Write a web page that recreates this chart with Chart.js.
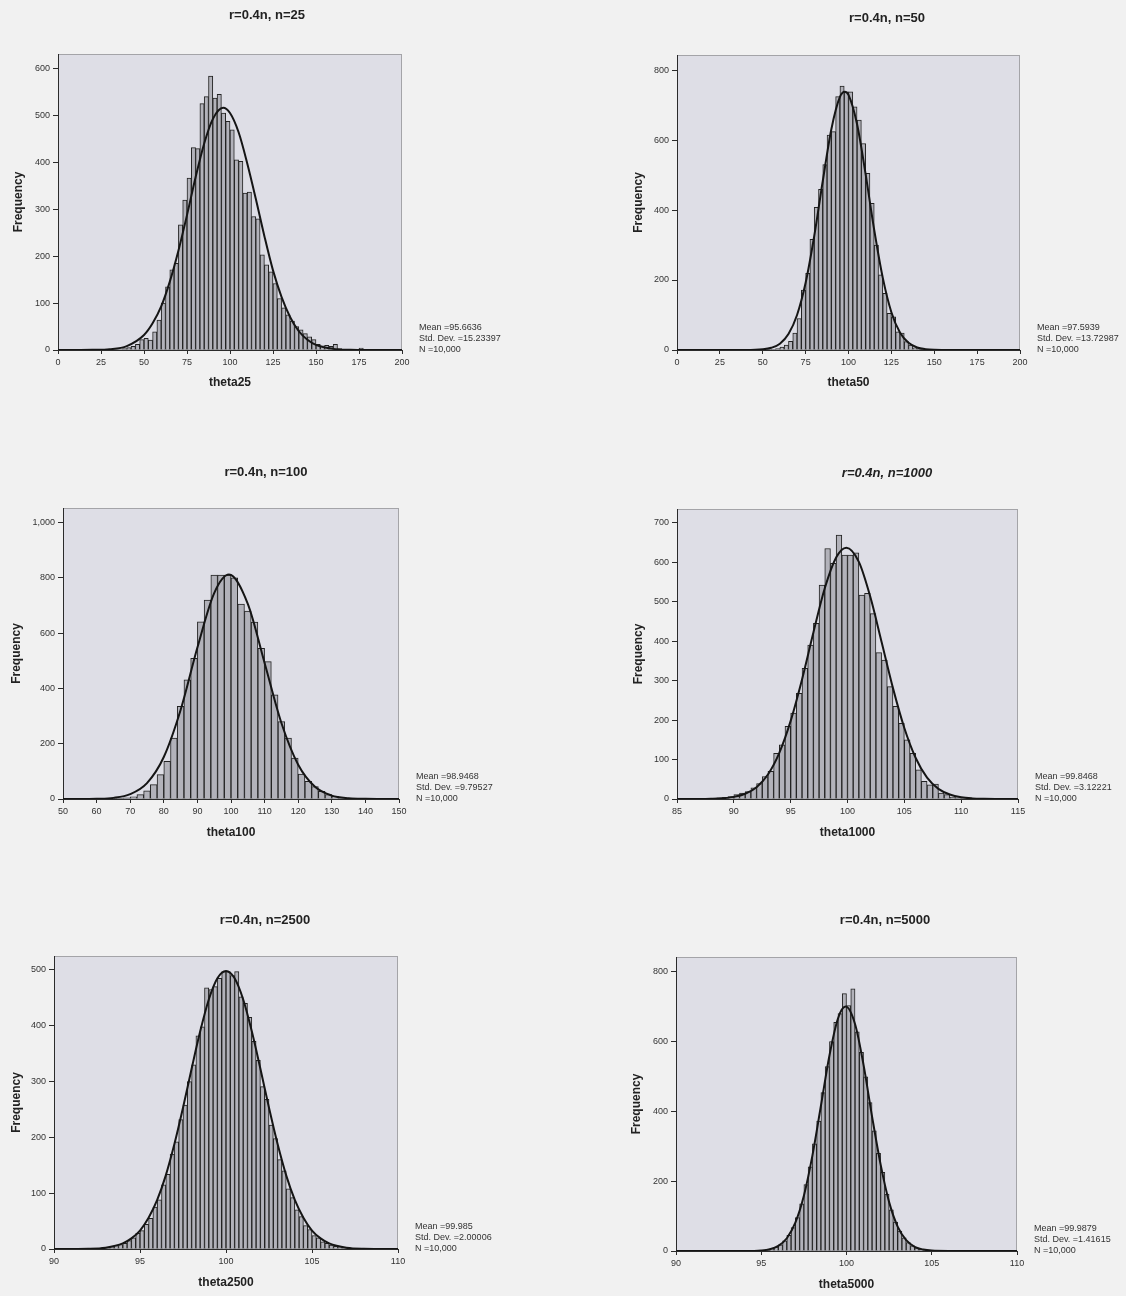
<!DOCTYPE html>
<html>
<head>
<meta charset="utf-8">
<title>theta histograms</title>
<script src="https://cdn.jsdelivr.net/npm/chart.js@4.4.0/dist/chart.umd.min.js"></script>
<style>
  html, body { margin: 0; padding: 0; background: #f1f1f1; }
  #page { position: relative; width: 1126px; height: 1296px; overflow: hidden; }
  #page canvas { position: absolute; }
</style>
</head>
<body>
<div id="page"></div>
<script>
// ---- n = 25 ----
var theta25Bins = [38.75, 41.25, 43.75, 46.25, 48.75, 51.25, 53.75, 56.25, 58.75, 61.25, 63.75, 66.25, 68.75, 71.25, 73.75, 76.25, 78.75, 81.25, 83.75, 86.25, 88.75, 91.25, 93.75, 96.25, 98.75, 101.25, 103.75, 106.25, 108.75, 111.25, 113.75, 116.25, 118.75, 121.25, 123.75, 126.25, 128.75, 131.25, 133.75, 136.25, 138.75, 141.25, 143.75, 146.25, 148.75, 151.25, 153.75, 156.25, 158.75, 161.25, 163.75, 166.25, 168.75, 173.75, 176.25];
var theta25Counts = [3, 5, 8, 12, 22, 25, 21, 39, 64, 100, 135, 171, 185, 267, 320, 367, 432, 430, 526, 541, 585, 538, 546, 506, 488, 470, 406, 403, 335, 337, 285, 280, 203, 182, 167, 142, 110, 90, 75, 62, 50, 43, 35, 28, 22, 12, 9, 10, 8, 12, 3, 1, 1, 1, 4];
var theta25CurveX = [0, 10, 20, 30, 40, 50, 55, 60, 65, 70, 75, 80, 85, 90, 96, 100, 105, 110, 115, 120, 125, 130, 135, 140, 145, 150, 160, 170, 180, 200];
var theta25CurveY = [0, 0, 0.3, 1.7, 8.4, 32, 57, 93, 146, 212, 288, 369, 441, 493, 517, 506, 465, 399, 323, 243, 170, 113, 70, 40, 22, 11, 2.4, 0.4, 0, 0];
var theta25Stats = ['Mean =95.6636', 'Std. Dev. =15.23397', 'N =10,000'];

// ---- n = 50 ----
var theta50Bins = [53.75, 56.25, 58.75, 61.25, 63.75, 66.25, 68.75, 71.25, 73.75, 76.25, 78.75, 81.25, 83.75, 86.25, 88.75, 91.25, 93.75, 96.25, 98.75, 101.25, 103.75, 106.25, 108.75, 111.25, 113.75, 116.25, 118.75, 121.25, 123.75, 126.25, 128.75, 131.25, 133.75, 136.25, 138.75, 141.25, 143.75, 146.25];
var theta50Counts = [1, 2, 4, 8, 14, 25, 48, 90, 171, 219, 316, 408, 459, 530, 614, 624, 724, 754, 738, 738, 695, 657, 590, 505, 419, 300, 215, 162, 105, 95, 52, 48, 24, 14, 6, 3, 2, 1];
var theta50CurveX = [0, 25, 40, 50, 55, 60, 65, 70, 75, 80, 85, 90, 95, 97.8, 100, 105, 110, 115, 120, 125, 130, 135, 140, 145, 150, 160, 175, 200];
var theta50CurveY = [0, 0, 0, 2, 6.4, 18, 45.5, 100, 192, 325, 483, 631, 723, 738, 729, 645, 502, 343, 206, 108, 50, 20.5, 7.3, 2.3, 0.6, 0, 0, 0];
var theta50Stats = ['Mean =97.5939', 'Std. Dev. =13.72987', 'N =10,000'];

// ---- n = 100 ----
var theta100Bins = [65, 67, 69, 71, 73, 75, 77, 79, 81, 83, 85, 87, 89, 91, 93, 95, 97, 99, 101, 103, 105, 107, 109, 111, 113, 115, 117, 119, 121, 123, 125, 127, 129, 131, 133, 135, 137, 139];
var theta100Counts = [1, 2, 4, 8, 16, 30, 52, 88, 136, 220, 335, 431, 509, 641, 720, 810, 810, 810, 800, 705, 680, 640, 545, 497, 377, 280, 220, 148, 90, 64, 45, 28, 16, 10, 5, 3, 2, 1];
var theta100CurveX = [50, 55, 60, 65, 70, 75, 80, 85, 90, 95, 99.4, 105, 110, 115, 120, 125, 130, 135, 140, 145, 150];
var theta100CurveY = [0, 0, 0.8, 4.1, 17.5, 57.6, 152, 322, 548, 745, 812, 706, 492, 275, 124, 44, 12.4, 2.9, 0.5, 0, 0];
var theta100Stats = ['Mean =98.9468', 'Std. Dev. =9.79527', 'N =10,000'];

// ---- n = 1000 ----
var theta1000Bins = [87.75, 88.25, 88.75, 89.25, 89.75, 90.25, 90.75, 91.25, 91.75, 92.25, 92.75, 93.25, 93.75, 94.25, 94.75, 95.25, 95.75, 96.25, 96.75, 97.25, 97.75, 98.25, 98.75, 99.25, 99.75, 100.25, 100.75, 101.25, 101.75, 102.25, 102.75, 103.25, 103.75, 104.25, 104.75, 105.25, 105.75, 106.25, 106.75, 107.25, 107.75, 108.25, 108.75, 109.25, 109.75, 110.25];
var theta1000Counts = [1, 2, 3, 4, 6, 11, 15, 19, 28, 39, 57, 70, 116, 137, 184, 218, 268, 331, 390, 445, 542, 635, 597, 669, 618, 618, 624, 517, 521, 470, 371, 352, 285, 235, 192, 150, 116, 74, 45, 36, 38, 15, 11, 5, 3, 2];
var theta1000CurveX = [85, 87, 88, 89, 90, 91, 92, 93, 94, 95, 96, 97, 98, 99, 99.9, 101, 102, 103, 104, 105, 106, 107, 108, 109, 110, 111, 112, 113, 115];
var theta1000CurveY = [0, 0.1, 0.6, 1.9, 5.4, 13.4, 30, 62, 117, 198, 303, 422, 534, 612, 637, 601, 513, 398, 281, 180, 104, 54, 25.6, 11.3, 4.3, 1.5, 0.5, 0.1, 0];
var theta1000Stats = ['Mean =99.8468', 'Std. Dev. =3.12221', 'N =10,000'];

// ---- n = 2500 ----
var theta2500Bins = [92.875, 93.125, 93.375, 93.625, 93.875, 94.125, 94.375, 94.625, 94.875, 95.125, 95.375, 95.625, 95.875, 96.125, 96.375, 96.625, 96.875, 97.125, 97.375, 97.625, 97.875, 98.125, 98.375, 98.625, 98.875, 99.125, 99.375, 99.625, 99.875, 100.125, 100.375, 100.625, 100.875, 101.125, 101.375, 101.625, 101.875, 102.125, 102.375, 102.625, 102.875, 103.125, 103.375, 103.625, 103.875, 104.125, 104.375, 104.625, 104.875, 105.125, 105.375, 105.625, 105.875, 106.125, 106.375, 106.625, 106.875, 107.125, 107.375, 107.625];
var theta2500Counts = [2, 3, 4, 6, 8, 10, 15, 20, 28, 33, 44, 55, 75, 88, 115, 134, 170, 192, 232, 258, 300, 330, 382, 398, 468, 465, 470, 485, 497, 497, 490, 497, 452, 440, 415, 372, 338, 291, 268, 222, 198, 160, 140, 108, 92, 70, 58, 42, 35, 24, 20, 13, 10, 7, 5, 4, 3, 2, 1, 1];
var theta2500CurveX = [90, 92, 93, 94, 94.5, 95, 95.5, 96, 96.5, 97, 97.5, 98, 98.5, 99, 99.5, 100, 100.5, 101, 101.5, 102, 102.5, 103, 103.5, 104, 104.5, 105, 105.5, 106, 107, 108, 110];
var theta2500CurveY = [0, 0.5, 2.4, 10, 19, 33, 56, 88, 132, 188, 253, 323, 390, 447, 485, 498, 485, 447, 390, 323, 253, 188, 132, 88, 56, 33, 19, 10, 2.4, 0.5, 0];
var theta2500Stats = ['Mean =99.985', 'Std. Dev. =2.00006', 'N =10,000'];

// ---- n = 5000 ----
var theta5000Bins = [95.375, 95.625, 95.875, 96.125, 96.375, 96.625, 96.875, 97.125, 97.375, 97.625, 97.875, 98.125, 98.375, 98.625, 98.875, 99.125, 99.375, 99.625, 99.875, 100.125, 100.375, 100.625, 100.875, 101.125, 101.375, 101.625, 101.875, 102.125, 102.375, 102.625, 102.875, 103.125, 103.375, 103.625, 103.875, 104.125, 104.375, 104.625];
var theta5000Counts = [4, 7, 11, 18, 29, 45, 67, 96, 135, 190, 241, 307, 372, 454, 528, 600, 655, 680, 737, 703, 751, 628, 569, 499, 425, 344, 280, 225, 163, 118, 83, 57, 38, 24, 15, 9, 5, 3];
var theta5000CurveX = [90, 94, 95, 95.5, 96, 96.5, 97, 97.5, 98, 98.5, 99, 99.5, 99.95, 100.5, 101, 101.5, 102, 102.5, 103, 103.5, 104, 104.5, 105, 106, 110];
var theta5000CurveY = [0, 0.1, 1.6, 5.1, 14.7, 36.6, 81, 158, 273, 416, 560, 666, 700, 650, 533, 385, 248, 140, 70, 31, 12, 4.2, 1.2, 0.1, 0];
var theta5000Stats = ['Mean =99.9879', 'Std. Dev. =1.41615', 'N =10,000'];

// panel layout: page coords of plot box (L,T,R,B), title centre, axis title centres
var panels = [
  { title: 'r=0.4n, n=25', xTitle: 'theta25', bins: theta25Bins, counts: theta25Counts, cx: theta25CurveX, cy: theta25CurveY, stats: theta25Stats,
    xMin: 0, xMax: 200, xStep: 25, yMax: 632, yStep: 100,
    x0: 0, L: 58, T: 54, R: 402, B: 350, titleY: 15, xLabY: 383, yLabX: 19 },
  { title: 'r=0.4n, n=50', xTitle: 'theta50', bins: theta50Bins, counts: theta50Counts, cx: theta50CurveX, cy: theta50CurveY, stats: theta50Stats,
    xMin: 0, xMax: 200, xStep: 25, yMax: 843, yStep: 200,
    x0: 620, L: 677, T: 55, R: 1020, B: 350, titleY: 18, xLabY: 383, yLabX: 639 },
  { title: 'r=0.4n, n=100', xTitle: 'theta100', bins: theta100Bins, counts: theta100Counts, cx: theta100CurveX, cy: theta100CurveY, stats: theta100Stats,
    xMin: 50, xMax: 150, xStep: 10, yMax: 1053, yStep: 200,
    x0: -1, L: 63, T: 508, R: 399, B: 799, titleY: 472, xLabY: 833, yLabX: 17 },
  { title: 'r=0.4n, n=1000', xTitle: 'theta1000', italic: true, bins: theta1000Bins, counts: theta1000Counts, cx: theta1000CurveX, cy: theta1000CurveY, stats: theta1000Stats,
    xMin: 85, xMax: 115, xStep: 5, yMax: 735, yStep: 100,
    x0: 620, L: 677, T: 509, R: 1018, B: 799, titleY: 473, xLabY: 833, yLabX: 639 },
  { title: 'r=0.4n, n=2500', xTitle: 'theta2500', bins: theta2500Bins, counts: theta2500Counts, cx: theta2500CurveX, cy: theta2500CurveY, stats: theta2500Stats,
    xMin: 90, xMax: 110, xStep: 5, yMax: 525, yStep: 100,
    x0: -2, L: 54, T: 956, R: 398, B: 1249, titleY: 920, xLabY: 1283, yLabX: 17 },
  { title: 'r=0.4n, n=5000', xTitle: 'theta5000', bins: theta5000Bins, counts: theta5000Counts, cx: theta5000CurveX, cy: theta5000CurveY, stats: theta5000Stats,
    xMin: 90, xMax: 110, xStep: 5, yMax: 842, yStep: 200,
    x0: 618, L: 676, T: 957, R: 1017, B: 1251, titleY: 920, xLabY: 1285, yLabX: 637 }
];

Chart.defaults.font.family = '"Liberation Sans", Arial, sans-serif';
Chart.defaults.color = '#333';

var INK = '#2b2b2b';

function makePanel(p) {
  var W = 534;
  var y0 = p.titleY - 15;
  var H = p.xLabY - y0 + 14;
  var canvas = document.createElement('canvas');
  canvas.width = W;
  canvas.height = H;
  canvas.style.left = p.x0 + 'px';
  canvas.style.top = y0 + 'px';
  document.getElementById('page').appendChild(canvas);

  var yW = p.L - p.x0;
  var y2W = p.x0 + W - p.R;
  var xH = y0 + H - p.B;
  var titlePadTop = p.titleY - y0 - 7.8;
  var titlePadBottom = (p.T - y0) - titlePadTop - 15.6;

  var frame = {
    id: 'frame' + p.xTitle,
    beforeDraw: function (chart) {
      var a = chart.chartArea, ctx = chart.ctx;
      ctx.save();
      ctx.fillStyle = '#dedee6';
      ctx.fillRect(a.left, a.top, a.right - a.left, a.bottom - a.top);
      ctx.strokeStyle = '#a4a4a8';
      ctx.lineWidth = 1;
      ctx.strokeRect(a.left + 0.5, a.top + 0.5, a.right - a.left - 1, a.bottom - a.top - 1);
      ctx.restore();
    },
    afterDraw: function (chart) {
      var a = chart.chartArea, ctx = chart.ctx;
      ctx.save();
      ctx.font = '9px "Liberation Sans", Arial, sans-serif';
      ctx.fillStyle = '#333';
      ctx.textAlign = 'left';
      ctx.textBaseline = 'middle';
      for (var i = 0; i < p.stats.length; i++) {
        ctx.fillText(p.stats[i], a.right + 17, a.bottom - 22 + i * 11);
      }
      ctx.restore();
    }
  };

  new Chart(canvas.getContext('2d'), {
    type: 'bar',
    data: {
      datasets: [{
        type: 'line',
        data: p.cx.map(function (x, i) { return { x: x, y: p.cy[i] }; }),
        borderColor: '#151515',
        borderWidth: 2,
        pointRadius: 0,
        fill: false,
        cubicInterpolationMode: 'monotone',
        order: 0
      }, {
        type: 'bar',
        data: p.bins.map(function (x, i) { return { x: x, y: p.counts[i] }; }),
        backgroundColor: '#b2b2ba',
        borderColor: '#222222',
        borderWidth: 1,
        barPercentage: 1,
        categoryPercentage: 1,
        order: 1
      }]
    },
    options: {
      responsive: false,
      animation: false,
      devicePixelRatio: 1,
      layout: { padding: 0 },
      plugins: {
        legend: { display: false },
        tooltip: { enabled: false },
        title: {
          display: true,
          text: p.title,
          color: '#222',
          font: { size: 13, weight: 'bold', style: p.italic ? 'italic' : 'normal' },
          padding: { top: titlePadTop, bottom: titlePadBottom }
        }
      },
      scales: {
        x: {
          type: 'linear',
          position: 'bottom',
          min: p.xMin,
          max: p.xMax,
          offset: false,
          ticks: { stepSize: p.xStep, autoSkip: false, maxRotation: 0, padding: 3, font: { size: 9 }, color: '#333' },
          grid: { display: true, drawOnChartArea: false, offset: false, tickLength: 4, color: INK },
          border: { display: true, color: INK },
          title: { display: true, text: p.xTitle, color: '#222', font: { size: 12, weight: 'bold' }, padding: { top: 0, bottom: 7 } },
          afterFit: function (s) { s.height = xH; }
        },
        y: {
          position: 'left',
          min: 0,
          max: p.yMax,
          ticks: { stepSize: p.yStep, includeBounds: false, padding: 3, font: { size: 9 }, color: '#333' },
          grid: { display: true, drawOnChartArea: false, tickLength: 5, color: INK },
          border: { display: true, color: INK },
          title: { display: true, text: 'Frequency', color: '#222', font: { size: 12, weight: 'bold' }, padding: { top: p.yLabX - p.x0 - 7.2, bottom: 0 } },
          afterFit: function (s) { s.width = yW; }
        },
        y2: {
          type: 'linear',
          position: 'right',
          display: true,
          ticks: { display: false },
          grid: { display: false },
          border: { display: false },
          afterFit: function (s) { s.width = y2W; }
        }
      }
    },
    plugins: [frame]
  });
}

panels.forEach(makePanel);
</script>
</body>
</html>
